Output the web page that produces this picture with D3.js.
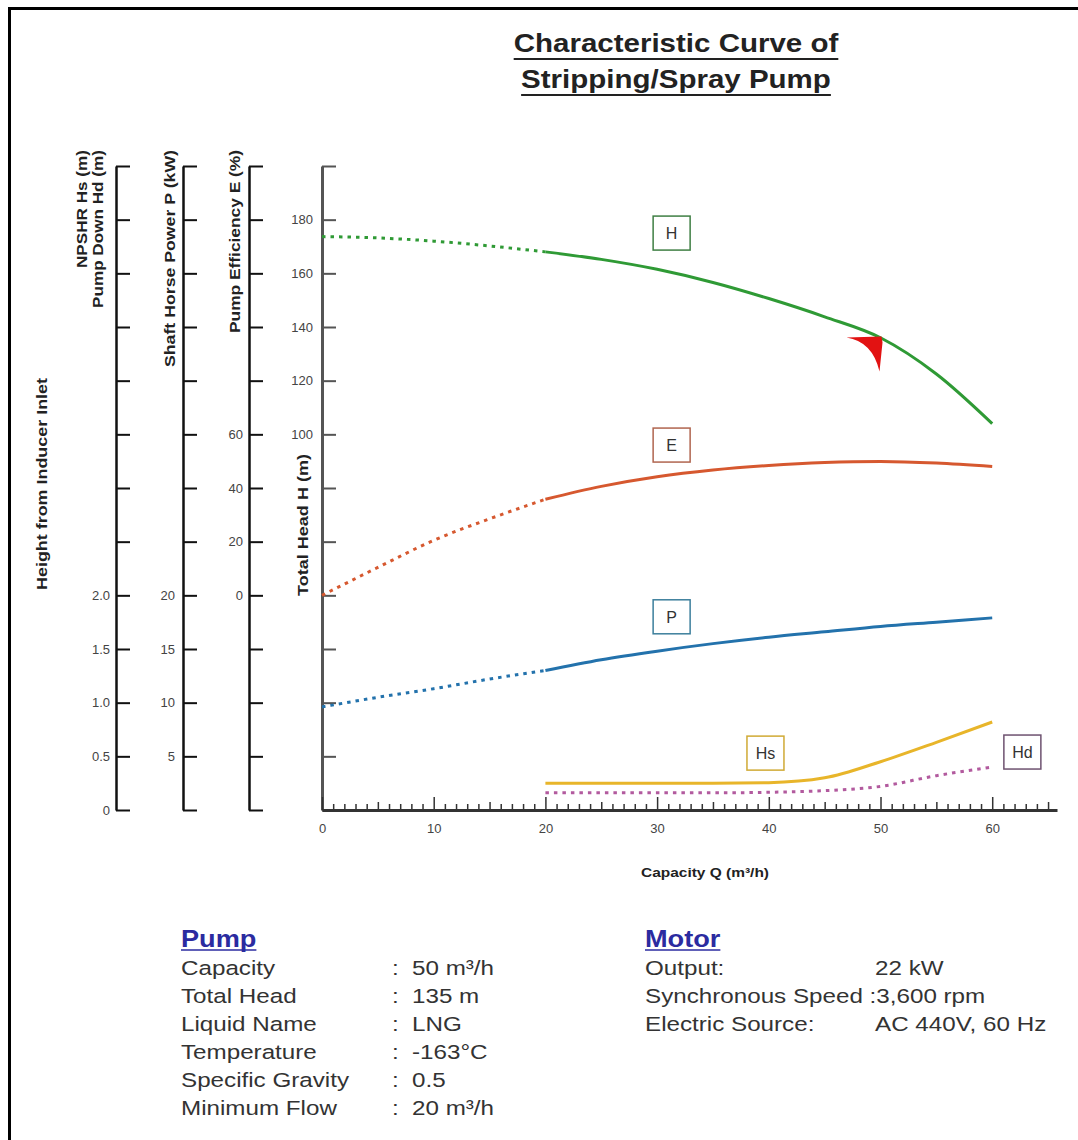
<!DOCTYPE html>
<html>
<head>
<meta charset="utf-8">
<script src="https://cdn.jsdelivr.net/npm/d3@7"></script>
<style>
body { margin: 0; background: #fff; }
svg text { font-family: "Liberation Sans", Arial, sans-serif; }
</style>
</head>
<body>
<div id="chart"></div>
<script>
// curve data, capacity in m3/h
var q_pts = [0, 5, 10, 15, 20, 25, 30, 35, 40, 45, 50, 55, 60];
var head_vals = [173.7, 173.2, 172.0, 170.2, 168.0, 165.2, 161.5, 156.6, 150.6, 143.8, 136.0, 122.5, 104.0];
var eff_vals = [0, 10.4, 20.5, 28.5, 35.8, 40.6, 44.2, 46.7, 48.4, 49.5, 49.9, 49.3, 48.0];
var power_vals = [9.6, 10.5, 11.3, 12.2, 13.0, 14.0, 14.8, 15.5, 16.1, 16.6, 17.1, 17.5, 17.9];
var q_low = [20, 25, 30, 35, 40, 45, 50, 55, 60];
var npsh_vals = [0.25, 0.25, 0.25, 0.25, 0.255, 0.30, 0.45, 0.63, 0.82];
var down_vals = [0.16, 0.16, 0.16, 0.16, 0.165, 0.18, 0.22, 0.32, 0.40];
var min_flow = 20;
var duty_q = 50, duty_h = 136.5;

// curve tags
var tag_names = ['H', 'E', 'P', 'Hs', 'Hd'];
var tag_q = [31.3, 31.3, 31.3, 39.7, 62.7];
var tag_vals = [175, 56, 18, 0.53, 0.54];

// spec tables
var pump_keys = ['Capacity', 'Total Head', 'Liquid Name', 'Temperature', 'Specific Gravity', 'Minimum Flow'];
var pump_vals = ['50 m\u00b3/h', '135 m', 'LNG', '-163\u00b0C', '0.5', '20 m\u00b3/h'];
var motor_keys = ['Output:', 'Synchronous Speed :3,600 rpm', 'Electric Source:'];
var motor_vals = ['22 kW', '', 'AC 440V, 60 Hz'];

var width = 1078, height = 1140;
var stretch = 1.18;   // the original lettering is a bit wider than Arial

var svg = d3.select('#chart').append('svg')
    .attr('width', width).attr('height', height);
svg.append('rect').attr('width', width).attr('height', height).attr('fill', '#fff');

// widen a text element by the stretch factor
function widen(sel, f) {
    var w = sel.node().getComputedTextLength();
    if (w > 0) sel.attr('textLength', w * (f || stretch)).attr('lengthAdjust', 'spacingAndGlyphs');
    return w * (f || stretch);
}

// frame (top + left only)
svg.append('path').attr('d', 'M9.5,1140 V8.5 H1078')
    .attr('fill', 'none').attr('stroke', '#000').attr('stroke-width', 3);

// title
var title_lines = ['Characteristic Curve of', 'Stripping/Spray Pump'];
var title_y = [52, 88];
title_lines.forEach(function(t, i) {
    var tx = svg.append('text').text(t)
        .attr('x', 676).attr('y', title_y[i])
        .attr('text-anchor', 'middle')
        .style('font-size', '25px').style('font-weight', 'bold').attr('fill', '#222');
    var w = widen(tx);
    svg.append('line').attr('x1', 676 - w / 2).attr('x2', 676 + w / 2)
        .attr('y1', title_y[i] + 7).attr('y2', title_y[i] + 7)
        .attr('stroke', '#222').attr('stroke-width', 2);
});

// scales
var top_y = 166, bot_y = 810;
var x = d3.scaleLinear().domain([0, 65.8]).range([322, 1057]);
var yH = d3.scaleLinear().domain([-40, 200]).range([bot_y, top_y]);
var yE = d3.scaleLinear().domain([-80, 160]).range([bot_y, top_y]);
var yP = d3.scaleLinear().domain([0, 60]).range([bot_y, top_y]);
var yN = d3.scaleLinear().domain([0, 6]).range([bot_y, top_y]);

function vAxis(scale, xpos, step, lo, hi, fmt, col, sw, pad) {
    var d = scale.domain();
    var ticks = d3.range(d[0], d[1] + step / 2, step);
    var g = svg.append('g').attr('transform', 'translate(' + xpos + ',0)')
        .call(d3.axisLeft(scale).tickValues(ticks)
            .tickSizeInner(-14).tickSizeOuter(0).tickPadding(pad)
            .tickFormat(function(v) { return (v >= lo - 1e-9 && v <= hi + 1e-9) ? fmt(v) : ''; }));
    g.select('.domain').attr('stroke', col).attr('stroke-width', sw);
    g.selectAll('.tick line').attr('stroke', col).attr('stroke-width', 2);
    g.selectAll('.tick text').attr('fill', '#444').style('font-size', '13px');
    return g;
}

vAxis(yN, 116, 0.5, 0, 2, function(v) { return v === 0 ? '0' : d3.format('.1f')(v); }, '#111', 2.5, 6);
vAxis(yP, 183, 5, 5, 20, d3.format('d'), '#111', 2.5, 8);
vAxis(yE, 249, 20, 0, 60, d3.format('d'), '#111', 2.5, 6);
vAxis(yH, 322, 20, 100, 180, d3.format('d'), '#555', 3, 9);

// x axis
var xg = svg.append('g').attr('transform', 'translate(0,' + bot_y + ')')
    .call(d3.axisBottom(x).tickValues(d3.range(0, 66, 1))
        .tickSizeInner(-6).tickSizeOuter(0).tickPadding(14)
        .tickFormat(function(v) { return (v % 10 === 0 && v <= 60) ? v : ''; }));
xg.select('.domain').attr('stroke', '#333').attr('stroke-width', 3);
xg.selectAll('.tick line').attr('stroke', '#333').attr('stroke-width', 1.5)
    .attr('y2', function(v) { return v % 10 === 0 ? -13 : (v % 5 === 0 ? -8 : -6); });
xg.selectAll('.tick text').attr('fill', '#444').style('font-size', '13px');

// axis titles
function vTitle(t, xpos, ypos, anchor, len) {
    svg.append('text').text(t)
        .attr('transform', 'translate(' + xpos + ',' + ypos + ') rotate(-90)')
        .attr('text-anchor', anchor)
        .attr('textLength', len).attr('lengthAdjust', 'spacingAndGlyphs')
        .style('font-size', '14px').style('font-weight', 'bold').attr('fill', '#222');
}
vTitle('NPSHR Hs (m)', 87, 150, 'end', 118);
vTitle('Pump Down Hd (m)', 103, 150, 'end', 158);
vTitle('Shaft Horse Power P (kW)', 175, 150, 'end', 217);
vTitle('Pump Efficiency E (%)', 240, 150, 'end', 183);
vTitle('Height from Inducer Inlet', 47, 590, 'start', 212);
vTitle('Total Head H (m)', 308, 596, 'start', 142);

svg.append('text').text('Capacity Q (m\u00b3/h)')
    .attr('x', 705).attr('y', 877).attr('text-anchor', 'middle')
    .attr('textLength', 128).attr('lengthAdjust', 'spacingAndGlyphs')
    .style('font-size', '13px').style('font-weight', 'bold').attr('fill', '#222');

// curves
function drawCurve(qs, vals, scale, color, dotted) {
    var pts = qs.map(function(q, i) { return [q, vals[i]]; });
    var line = d3.line()
        .x(function(d) { return x(d[0]); })
        .y(function(d) { return scale(d[1]); })
        .curve(d3.curveMonotoneX);
    var low = pts.filter(function(d) { return d[0] <= min_flow; });
    var high = pts.filter(function(d) { return d[0] >= min_flow; });
    if (low.length > 1) {
        svg.append('path').attr('d', line(low))
            .attr('fill', 'none').attr('stroke', color).attr('stroke-width', 3)
            .attr('stroke-dasharray', '3.5,5');
    }
    svg.append('path').attr('d', line(high))
        .attr('fill', 'none').attr('stroke', color).attr('stroke-width', 3)
        .attr('stroke-dasharray', dotted ? '3.5,5' : null);
}
drawCurve(q_pts, head_vals, yH, '#2f9a35', false);
drawCurve(q_pts, eff_vals, yE, '#d6582f', false);
drawCurve(q_pts, power_vals, yP, '#2372ac', false);
drawCurve(q_low, npsh_vals, yN, '#e8b52a', false);
drawCurve(q_low, down_vals, yN, '#b25a9e', true);

// duty point marker
svg.append('path')
    .attr('transform', 'translate(' + x(duty_q) + ',' + yH(duty_h) + ')')
    .attr('d', 'M1,0 L-34,1 Q-8,5 -1,35 L2,6 Z')
    .attr('fill', '#e21212');

// curve tags
var tag_scales = [yH, yE, yP, yN, yN];
var tag_colors = ['#3f7f44', '#b0654f', '#3c7f9c', '#d0aa35', '#6e5270'];
tag_names.forEach(function(n, i) {
    var cx = x(tag_q[i]), cy = tag_scales[i](tag_vals[i]);
    svg.append('rect').attr('x', cx - 18.5).attr('y', cy - 17).attr('width', 37).attr('height', 34)
        .attr('fill', '#fff').attr('stroke', tag_colors[i]).attr('stroke-width', 1.5);
    svg.append('text').text(n).attr('x', cx).attr('y', cy + 6)
        .attr('text-anchor', 'middle').style('font-size', '16px').attr('fill', '#333');
});

// spec tables
function heading(t, xpos) {
    var tx = svg.append('text').text(t).attr('x', xpos).attr('y', 947)
        .style('font-size', '23px').style('font-weight', 'bold').attr('fill', '#2b2ba0');
    var w = widen(tx);
    svg.append('line').attr('x1', xpos).attr('x2', xpos + w).attr('y1', 950).attr('y2', 950)
        .attr('stroke', '#2b2ba0').attr('stroke-width', 1.5);
}
heading('Pump', 181);
heading('Motor', 645);

function cell(t, xpos, yy) {
    if (!t) return;
    var tx = svg.append('text').text(t).attr('x', xpos).attr('y', yy)
        .style('font-size', '20.5px').attr('fill', '#333');
    widen(tx);
}
pump_keys.forEach(function(k, i) {
    var yy = 975 + i * 28;
    cell(k, 181, yy);
    cell(':', 392, yy);
    cell(pump_vals[i], 412, yy);
});
motor_keys.forEach(function(k, i) {
    var yy = 975 + i * 28;
    cell(k, 645, yy);
    cell(motor_vals[i], 875, yy);
});
</script>
</body>
</html>
